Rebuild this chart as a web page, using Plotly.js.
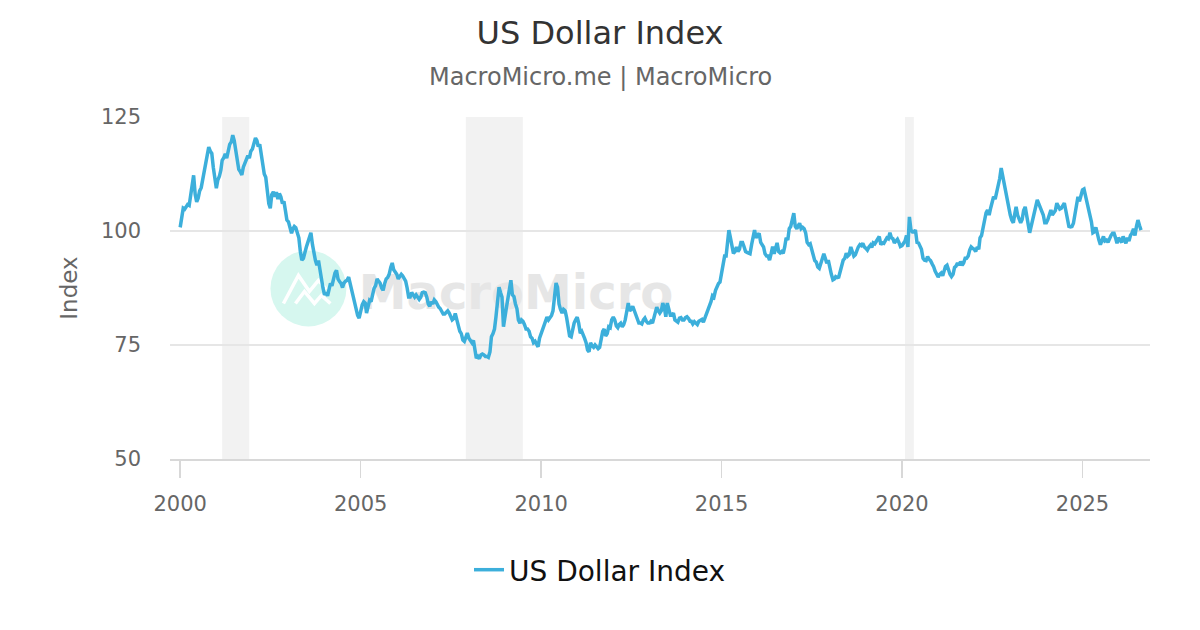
<!DOCTYPE html>
<html>
<head>
<meta charset="utf-8">
<script src="https://cdn.plot.ly/plotly-3.0.1.min.js"></script>
<style>
  html, body { margin: 0; padding: 0; background: #ffffff; }
  #chart { width: 1200px; height: 630px; }
</style>
</head>
<body>
<div id="chart"></div>
<script>
// ---- Data: US Dollar Index, two readings per month (1st, 16th) ----
const firstYear = 2000;
const dxy2000 = [100.8,102.5,105.0,104.8,105.5,105.8,105.6,107.5,110.5,112.2,108.0,106.4,107.2,108.8,109.5,111.2,113.5,115.2,116.0,118.4,117.5,117.0,114.0,111.0];
const dxy2001 = [109.4,111.2,112.0,113.4,115.5,116.0,116.9,116.0,117.5,119.0,119.5,121.0,119.8,117.5,114.5,113.5,113.0,112.3,114.0,115.0,115.8,116.5,116.0,117.5];
const dxy2002 = [118.0,119.5,120.4,119.8,118.5,119.0,117.0,115.0,112.5,111.8,108.5,106.0,105.0,108.0,108.6,107.5,108.5,107.0,108.2,107.5,106.0,106.5,104.5,102.4];
const dxy2003 = [102.0,100.5,99.5,100.5,101.0,100.7,99.5,98.5,95.5,93.6,94.0,95.5,96.5,97.5,99.0,99.6,97.0,95.0,93.5,92.5,93.5,91.5,89.0,87.5];
const dxy2004 = [86.0,86.5,85.8,87.5,88.5,88.0,89.5,90.8,91.4,89.5,88.9,88.5,87.6,88.6,89.0,89.2,89.9,88.5,87.8,86.0,84.5,83.0,81.5,80.9];
const dxy2005 = [82.5,83.8,84.5,84.2,82.0,83.5,84.8,84.5,86.0,87.4,88.0,89.5,89.0,88.6,87.5,87.0,88.5,89.5,89.8,90.5,92.0,93.0,91.5,91.0];
const dxy2006 = [90.5,89.5,90.0,90.5,90.2,89.5,89.0,87.5,85.5,85.5,86.5,86.0,85.5,86.0,85.5,85.0,85.5,86.5,86.6,86.5,85.5,84.0,83.5,84.5];
const dxy2007 = [84.0,84.9,84.5,83.8,83.3,83.0,82.5,81.8,81.8,82.2,82.5,82.0,81.1,80.5,80.8,81.9,80.5,78.8,78.0,77.5,76.1,75.8,76.5,77.6];
const dxy2008 = [76.5,76.0,75.5,76.0,73.5,72.1,72.5,72.0,72.8,73.0,72.8,72.5,72.5,72.3,73.5,76.8,77.5,78.5,81.2,85.0,87.7,86.5,85.5,79.0];
const dxy2009 = [82.0,83.4,85.5,87.5,89.2,86.0,85.6,84.0,83.0,80.5,79.8,80.5,80.2,79.5,78.5,78.5,78.0,76.8,76.5,75.5,75.8,75.2,74.6,76.5];
const dxy2010 = [77.5,78.0,79.0,80.5,81.1,80.5,81.0,81.5,82.5,86.0,88.6,87.7,84.0,82.8,82.0,82.8,82.5,81.0,78.5,77.0,76.8,78.8,79.8,80.5];
const dxy2011 = [81.1,79.8,77.6,78.0,77.0,76.5,75.5,73.9,73.5,75.5,74.8,74.5,75.0,74.6,74.2,74.5,76.5,78.0,78.5,77.0,77.5,79.0,78.8,80.5];
const dxy2012 = [81.1,80.5,79.2,78.8,79.5,79.8,79.0,79.5,80.5,82.0,84.2,82.5,82.8,83.5,82.5,82.0,80.5,79.8,79.8,79.6,80.5,80.9,80.2,79.8];
const dxy2013 = [79.8,80.2,79.8,81.0,82.5,83.3,82.5,82.0,82.5,84.2,83.2,81.2,84.2,83.0,81.5,81.5,82.0,80.5,80.3,80.0,80.9,81.0,80.5,80.5];
const dxy2014 = [81.0,81.2,80.8,80.2,80.2,79.6,80.1,79.8,79.5,80.2,80.5,80.6,80.0,80.9,81.5,82.3,83.5,84.5,85.8,85.5,87.0,88.0,88.5,88.8];
const dxy2015 = [90.5,92.5,94.5,94.5,97.5,100.2,98.5,97.0,95.1,95.5,96.5,95.5,96.0,97.5,97.5,96.6,95.5,95.3,95.1,95.0,97.0,99.2,100.2,98.5];
const dxy2016 = [99.0,99.5,97.5,96.8,96.5,95.0,94.5,94.5,93.6,95.0,96.6,95.0,96.5,97.4,95.5,95.2,95.5,95.1,96.5,98.5,98.0,100.5,101.0,102.8];
const dxy2017 = [103.9,101.0,100.5,101.2,101.7,100.5,100.8,100.5,99.6,97.5,97.0,97.2,95.8,94.5,93.5,93.2,92.1,91.8,92.9,93.5,95.0,94.0,92.9,93.6];
const dxy2018 = [91.4,90.5,89.3,89.5,90.0,89.8,89.9,91.0,92.5,93.6,94.0,95.1,94.5,94.8,96.5,95.5,94.5,94.8,95.8,96.5,97.0,96.8,97.3,96.5];
const dxy2019 = [96.2,95.8,96.5,96.9,96.4,97.4,97.2,97.8,98.0,98.8,97.0,97.4,97.3,98.0,98.5,98.3,99.6,98.5,98.3,97.4,98.0,98.2,97.5,96.6];
const dxy2020 = [96.8,97.4,97.8,99.0,96.5,103.1,100.2,99.8,99.8,100.2,97.5,97.4,96.5,96.0,94.0,93.6,93.5,94.4,93.8,93.5,92.8,92.2,91.2,90.5];
const dxy2021 = [89.9,90.5,90.8,90.2,91.0,92.2,92.5,91.4,90.5,90.0,90.5,92.0,92.3,93.0,92.5,93.3,92.5,93.0,94.0,94.0,94.5,95.8,96.5,96.2];
const dxy2022 = [96.0,95.5,96.5,96.0,98.5,99.0,100.9,102.5,104.0,104.6,103.5,105.0,106.1,107.5,107.0,108.3,110.0,111.5,113.8,112.0,110.5,108.3,106.5,104.5];
const dxy2023 = [103.5,102.4,101.8,103.8,105.3,103.5,102.5,101.8,102.5,104.5,105.3,102.8,101.5,99.6,101.0,103.0,104.5,105.5,106.8,106.0,105.2,104.6,103.5,101.8];
const dxy2024 = [101.8,102.5,104.0,104.6,103.5,104.0,104.5,106.1,105.3,104.8,105.0,105.5,106.1,104.5,103.0,101.0,100.9,101.0,101.7,103.5,105.5,107.5,106.5,107.8];
const dxy2025 = [109.0,109.2,107.5,106.8,104.6,103.8,102.0,99.6,99.8,100.8,98.8,98.0,97.0,98.0,98.8,97.8,98.0,97.5,98.5,99.0,99.5,99.5,98.5,97.3];
const dxy2026 = [98.5,98.0,97.5,98.8,98.0,97.3,98.5,97.8,99.0,99.5,100.5,99.0,101.0,102.4,101.2,100.2];

const yearlyValues = [dxy2000,dxy2001,dxy2002,dxy2003,dxy2004,dxy2005,dxy2006,dxy2007,dxy2008,
  dxy2009,dxy2010,dxy2011,dxy2012,dxy2013,dxy2014,dxy2015,dxy2016,dxy2017,dxy2018,dxy2019,
  dxy2020,dxy2021,dxy2022,dxy2023,dxy2024,dxy2025,dxy2026];

// Recession periods (shaded)
const recessionStart = ['2001-03-01','2007-12-01','2020-02-01'];
const recessionEnd   = ['2001-11-30','2009-06-30','2020-04-30'];

// Axis ticks
const xTickVals  = ['2000-01-01','2005-01-01','2010-01-01','2015-01-01','2020-01-01','2025-01-01'];
const xTickText  = ['2000','2005','2010','2015','2020','2025'];
const yTickVals  = [50, 75, 100, 125];

// ---- Build series ----
const pad = n => (n < 10 ? '0' + n : '' + n);
const dates = [], values = [];
yearlyValues.forEach((arr, yi) => {
  const yr = firstYear + yi;
  arr.forEach((v, i) => {
    const m = Math.floor(i / 2) + 1;
    const d = (i % 2 === 0) ? 1 : 16;
    dates.push(yr + '-' + pad(m) + '-' + pad(d));
    values.push(v);
  });
});

const trace = {
  type: 'scatter',
  mode: 'lines',
  x: dates,
  y: values,
  name: 'US Dollar Index',
  line: { color: '#3cafdb', width: 3.5 },
  hoverinfo: 'x+y'
};

const shapes = [];
recessionStart.forEach((s, i) => {
  shapes.push({
    type: 'rect', xref: 'x', yref: 'paper',
    x0: s, x1: recessionEnd[i], y0: 0, y1: 1,
    fillcolor: '#f2f2f2', line: { width: 0 }, layer: 'below'
  });
});

// Watermark logo (circle + strokes) and wordmark
shapes.push({
  type: 'circle', xref: 'x', yref: 'y',
  xsizemode: 'pixel', ysizemode: 'pixel',
  xanchor: '2003-07-22', yanchor: 87.4,
  x0: -38, x1: 38, y0: -38, y1: 38,
  fillcolor: '#d6f7ef', line: { width: 0 }, layer: 'below'
});
shapes.push({
  type: 'path', xref: 'x', yref: 'y',
  xsizemode: 'pixel', ysizemode: 'pixel',
  xanchor: '2003-07-22', yanchor: 87.4,
  path: 'M -25 -15 L -10 13 L 1 -3 L 10 8 L 18 -1',
  line: { color: '#ffffff', width: 3.5 }, layer: 'below'
});
shapes.push({
  type: 'path', xref: 'x', yref: 'y',
  xsizemode: 'pixel', ysizemode: 'pixel',
  xanchor: '2003-07-22', yanchor: 87.4,
  path: 'M -13 -15 L -4 -3 L 6 -15 L 13 -7 L 22 -15',
  line: { color: '#ffffff', width: 3.5 }, layer: 'below'
});
shapes.push({
  type: 'rect', xref: 'x', yref: 'y',
  x0: '2006-04-22', x1: '2012-04-22', y0: 82.3, y1: 92.3,
  fillcolor: 'rgba(0,0,0,0)', line: { width: 0 }, layer: 'below',
  label: {
    text: '<b>MacroMicro</b>',
    textposition: 'middle center',
    font: { family: 'DejaVu Sans', size: 48, color: '#e6e6e6' }
  }
});

const layout = {
  width: 1200,
  height: 630,
  margin: { l: 170, r: 50, t: 117, b: 171 },
  paper_bgcolor: '#ffffff',
  plot_bgcolor: '#ffffff',
  font: { family: 'DejaVu Sans', color: '#666666' },
  title: {
    text: 'US Dollar Index',
    font: { family: 'DejaVu Sans', size: 32, color: '#333333' },
    xref: 'container', x: 0.5, xanchor: 'center',
    yref: 'container', y: 1 - 33 / 630, yanchor: 'middle'
  },
  annotations: [{
    text: 'MacroMicro.me | MacroMicro',
    xref: 'paper', yref: 'paper',
    x: (600 - 170) / 980, y: (459 - 77) / 342,
    xanchor: 'center', yanchor: 'middle',
    showarrow: false,
    font: { family: 'DejaVu Sans', size: 24, color: '#666666' }
  }],
  xaxis: {
    type: 'date',
    range: ['1999-09-20', '2026-11-15'],
    tickmode: 'array',
    tickvals: xTickVals,
    ticktext: xTickText,
    ticks: 'outside',
    ticklen: 17,
    tickwidth: 1.5,
    tickcolor: '#d8d8d8',
    showline: true,
    linecolor: '#d8d8d8',
    linewidth: 1.5,
    showgrid: false,
    zeroline: false,
    ticklabelstandoff: 8,
    tickfont: { family: 'DejaVu Sans', size: 21, color: '#666666' }
  },
  yaxis: {
    range: [50, 125],
    tickmode: 'array',
    tickvals: yTickVals,
    showgrid: true,
    gridcolor: '#e6e6e6',
    gridwidth: 1.5,
    zeroline: false,
    showline: false,
    ticks: '',
    ticklabelstandoff: 28,
    tickfont: { family: 'DejaVu Sans', size: 21, color: '#666666' },
    title: {
      text: 'Index',
      standoff: 16,
      font: { family: 'DejaVu Sans', size: 23, color: '#666666' }
    }
  },
  showlegend: true,
  legend: {
    orientation: 'h',
    xref: 'paper', yref: 'paper',
    x: (600 - 170) / 980, xanchor: 'center',
    y: (459 - 570) / 342, yanchor: 'middle',
    font: { family: 'DejaVu Sans', size: 28, color: '#111111' },
    bgcolor: 'rgba(0,0,0,0)'
  },
  shapes: shapes
};

Plotly.newPlot('chart', [trace], layout, { staticPlot: true, displayModeBar: false });
</script>
</body>
</html>
